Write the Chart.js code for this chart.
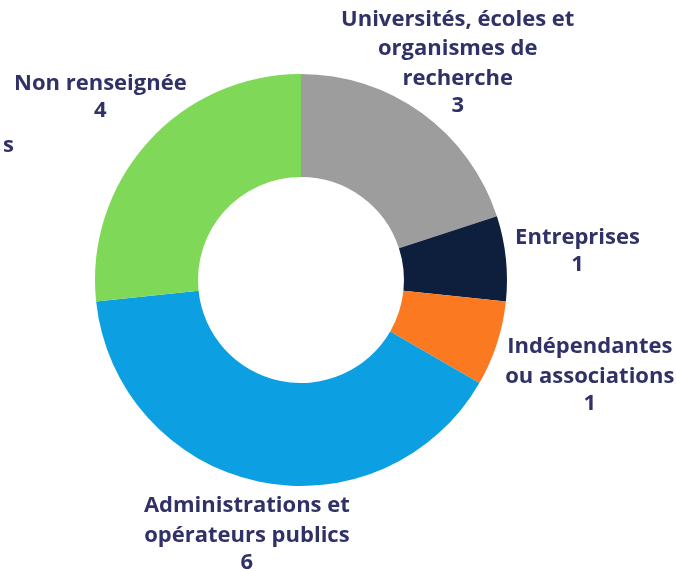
<!DOCTYPE html>
<html>
<head>
<meta charset="utf-8">
<script src="https://cdn.jsdelivr.net/npm/chart.js@4/dist/chart.umd.min.js"></script>
<style>
  html, body { margin: 0; padding: 0; background: #fff; }
  #wrap { width: 677px; height: 571px; position: relative; }
</style>
</head>
<body>
<div id="wrap"><canvas id="donut"></canvas></div>
<script>
// Chart data
const categories = [
    ['Universités, écoles et', 'organismes de', 'recherche'],
    ['Entreprises'],
    ['Indépendantes', 'ou associations'],
    ['Administrations et', 'opérateurs publics'],
    ['Non renseignée']
];
const values = [3, 1, 1, 6, 4];
const colors = ['#9d9d9d', '#0e1f3e', '#fb7a21', '#0ca0e3', '#7fd858'];

// label nudges (px) from the default spot on the slice's mid angle
const labelNudge = [[-2, 1], [8, -1], [32, 12], [2, -10], [0, -2]];
const textColor = '#2f3167';
const labelFont = 'bold 22px "Open Sans"';

const sliceLabels = {
    id: 'sliceLabels',
    afterDatasetsDraw(chart) {
        const ctx = chart.ctx;
        const meta = chart.getDatasetMeta(0);
        ctx.save();
        ctx.font = labelFont;
        ctx.fillStyle = textColor;
        ctx.textAlign = 'center';
        ctx.textBaseline = 'middle';
        meta.data.forEach((arc, i) => {
            const p = arc.getProps(['x', 'y', 'startAngle', 'endAngle', 'outerRadius'], true);
            const mid = (p.startAngle + p.endAngle) / 2;
            const dist = p.outerRadius + 64;
            const cx = p.x + Math.cos(mid) * dist + labelNudge[i][0];
            const cy = p.y + Math.sin(mid) * dist + labelNudge[i][1];
            const lines = categories[i].concat(String(values[i]));
            const offsets = lines.map((l, k) => k < lines.length - 1 ? k * 29.5 : (k - 1) * 29.5 + 27);
            const top = cy - offsets[offsets.length - 1] / 2;
            lines.forEach((l, k) => ctx.fillText(l, cx, top + offsets[k]));
        });

        // label of a neighbouring chart, cut by the left edge
        ctx.beginPath();
        ctx.rect(3, 0, 100, 571);
        ctx.clip();
        ctx.textAlign = 'right';
        ctx.fillText('Particuliers', 14, 146);
        ctx.restore();
    }
};

new Chart(document.getElementById('donut'), {
    type: 'doughnut',
    data: {
        labels: categories,
        datasets: [{
            data: values,
            backgroundColor: colors,
            borderWidth: 0
        }]
    },
    options: {
        responsive: true,
        maintainAspectRatio: false,
        animation: false,
        cutout: '50%',
        layout: {
            padding: { left: 95, right: 170, top: 74, bottom: 85 }
        },
        plugins: {
            legend: { display: false },
            tooltip: { enabled: false }
        }
    },
    plugins: [sliceLabels]
});
</script>
</body>
</html>
